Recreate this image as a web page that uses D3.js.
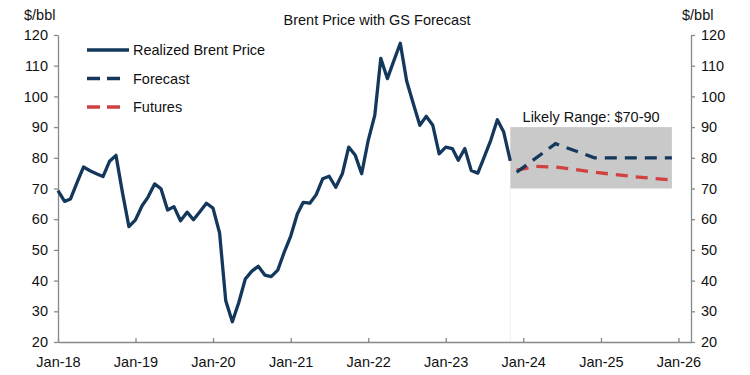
<!DOCTYPE html>
<html>
<head>
<meta charset="utf-8">
<script src="https://cdn.jsdelivr.net/npm/d3@7"></script>
<style>
  body { margin: 0; background: #fff; }
  text { font-family: "Liberation Sans", Arial, sans-serif; fill: #111; }
</style>
</head>
<body>
<div id="container"></div>
<script>
// monthly realized Brent, Jan-18 .. Nov-23
const realizedStart = "2018-01-01"
const realized = [69.3, 65.8, 66.6, 72.0, 77.0, 75.8, 74.8, 73.9, 78.9, 80.8, 68.5, 57.6,
  59.8, 64.4, 67.2, 71.5, 69.9, 63.0, 64.1, 59.5, 62.3, 59.8, 62.5, 65.2,
  63.6, 55.5, 33.4, 26.6, 32.8, 40.5, 43.0, 44.7, 41.8, 41.3, 43.4, 49.2,
  54.5, 61.7, 65.5, 65.2, 68.0, 73.2, 74.0, 70.4, 74.8, 83.5, 80.8, 74.8,
  85.7, 93.9, 112.4, 105.8, 111.5, 117.3, 105.0, 97.7, 90.6, 93.5, 90.6, 81.3,
  83.5, 83.0, 79.2, 83.0, 75.9, 75.0, 80.2, 85.7, 92.4, 88.4, 79.0]

const forecastDates = ["2023-12-01", "2024-06-01", "2024-12-01", "2025-12-01"]
const forecastValues = [75.3, 84.6, 80.0, 80.0]

const futuresDates = ["2023-12-01", "2024-03-01", "2024-06-01", "2024-09-01", "2024-12-01",
  "2025-03-01", "2025-06-01", "2025-09-01", "2025-12-01"]
const futuresValues = [76.0, 77.2, 77.0, 76.2, 75.3, 74.6, 73.9, 73.3, 72.8]

const rangeDates = ["2023-11-01", "2025-12-01"]
const rangeValues = [70, 90]

const yTicks = [20, 30, 40, 50, 60, 70, 80, 90, 100, 110, 120]

const navy = "#14375c"
const red = "#d0413f"

const width = 750, height = 375
const margin = { top: 35, right: 59, bottom: 33, left: 58 }

const svg = d3.select("#container")
  .append("svg")
  .attr("width", width)
  .attr("height", height)

const parse = d3.timeParse("%Y-%m-%d")

const xScale = d3.scaleTime()
  .domain([parse("2018-01-01"), parse("2026-03-01")])
  .range([margin.left, width - margin.right])

const yScale = d3.scaleLinear()
  .domain([20, 120])
  .range([height - margin.bottom, margin.top])

const realizedData = realized.map((v, i) => ({ date: d3.timeMonth.offset(parse(realizedStart), i), value: v }))
const forecastData = forecastDates.map((d, i) => ({ date: parse(d), value: forecastValues[i] }))
const futuresData = futuresDates.map((d, i) => ({ date: parse(d), value: futuresValues[i] }))

// likely range box
svg.append("rect")
  .attr("x", xScale(parse(rangeDates[0])))
  .attr("y", yScale(rangeValues[1]))
  .attr("width", xScale(parse(rangeDates[1])) - xScale(parse(rangeDates[0])))
  .attr("height", yScale(rangeValues[0]) - yScale(rangeValues[1]))
  .attr("fill", "#c9c9c9")

// faint guide below the box
svg.append("line")
  .attr("x1", xScale(parse(rangeDates[0]))).attr("x2", xScale(parse(rangeDates[0])))
  .attr("y1", yScale(rangeValues[0])).attr("y2", yScale(20))
  .attr("stroke", "#f1f1f1")

svg.append("text")
  .attr("x", (xScale(parse(rangeDates[0])) + xScale(parse(rangeDates[1]))) / 2)
  .attr("y", yScale(rangeValues[1]) - 5)
  .attr("text-anchor", "middle")
  .style("font-size", "14.5px")
  .text("Likely Range: $70-90")

// axes
const axisColor = "#888"

const xAxis = svg.append("g")
  .attr("transform", `translate(0, ${height - margin.bottom})`)
  .call(d3.axisBottom(xScale)
    .ticks(d3.timeYear.every(1))
    .tickFormat(d3.timeFormat("%b-%y"))
    .tickSizeInner(-4)
    .tickSizeOuter(0)
    .tickPadding(12))
xAxis.selectAll("text").style("font-size", "14.5px").attr("dy", "0.9em")

const yLeft = svg.append("g")
  .attr("transform", `translate(${margin.left}, 0)`)
  .call(d3.axisLeft(yScale).tickValues(yTicks).tickSizeInner(4).tickSizeOuter(0).tickPadding(6))
yLeft.selectAll("text").style("font-size", "14.5px")

const yRight = svg.append("g")
  .attr("transform", `translate(${width - margin.right}, 0)`)
  .call(d3.axisRight(yScale).tickValues(yTicks).tickSizeInner(4).tickSizeOuter(0).tickPadding(6))
yRight.selectAll("text").style("font-size", "14.5px")

svg.selectAll(".domain, .tick line").attr("stroke", axisColor).attr("stroke-width", 1.3)

// units + title
svg.append("text").attr("x", 24).attr("y", 20).style("font-size", "14.5px").text("$/bbl")
svg.append("text").attr("x", 682).attr("y", 20).style("font-size", "14.5px").text("$/bbl")
svg.append("text")
  .attr("x", 377).attr("y", 25)
  .attr("text-anchor", "middle")
  .style("font-size", "14.5px")
  .text("Brent Price with GS Forecast")

// lines
const line = d3.line()
  .x(d => xScale(d.date))
  .y(d => yScale(d.value))

svg.append("path")
  .datum(futuresData)
  .attr("d", line)
  .attr("fill", "none")
  .attr("stroke", red)
  .attr("stroke-width", 3.3)
  .attr("stroke-dasharray", "12,8")

svg.append("path")
  .datum(forecastData)
  .attr("d", line)
  .attr("fill", "none")
  .attr("stroke", navy)
  .attr("stroke-width", 3.3)
  .attr("stroke-dasharray", "12,8")

svg.append("path")
  .datum(realizedData)
  .attr("d", line)
  .attr("fill", "none")
  .attr("stroke", navy)
  .attr("stroke-width", 3.3)
  .attr("stroke-linejoin", "round")

// legend
const legendItems = [
  { label: "Realized Brent Price", color: navy, dash: null, len: 42 },
  { label: "Forecast", color: navy, dash: "13,7", len: 33 },
  { label: "Futures", color: red, dash: "13,7", len: 33 }
]
const legend = svg.append("g")
  .selectAll("g")
  .data(legendItems)
  .join("g")
  .attr("transform", (d, i) => `translate(87, ${50 + i * 28.5})`)
legend.append("line")
  .attr("x1", 0).attr("x2", d => d.len)
  .attr("stroke", d => d.color)
  .attr("stroke-width", 3.3)
  .attr("stroke-dasharray", d => d.dash)
legend.append("text")
  .attr("x", 46).attr("y", 5)
  .style("font-size", "14.5px")
  .text(d => d.label)
</script>
</body>
</html>
